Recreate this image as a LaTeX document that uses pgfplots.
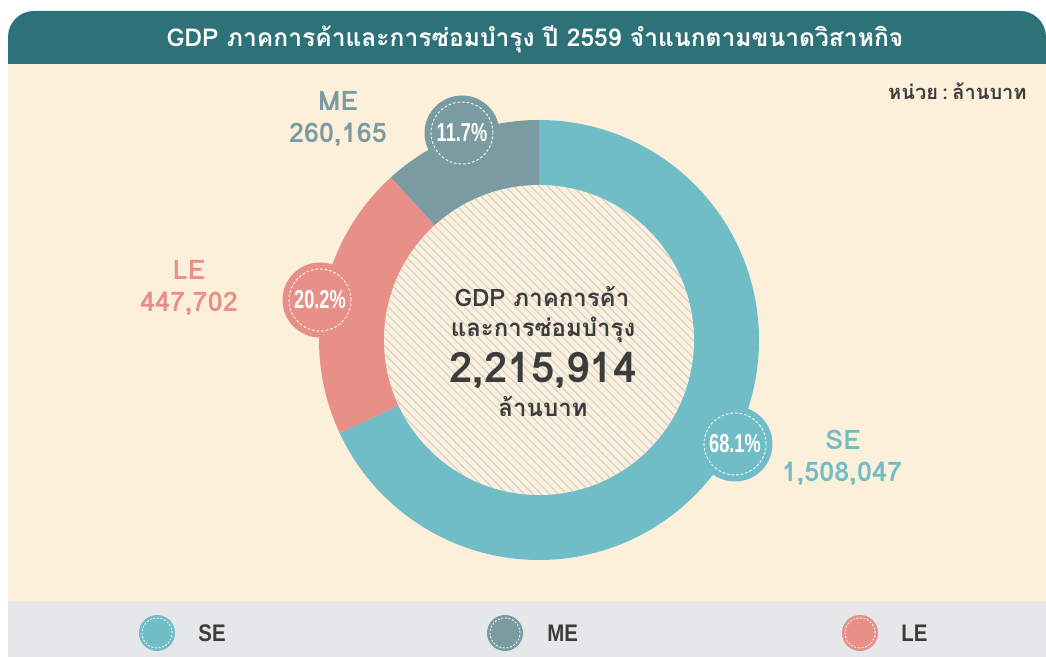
\documentclass[border=0pt]{standalone}
\usepackage{pgfplots}
\pgfplotsset{compat=1.18}
\usepackage{pgfplotstable}
\usetikzlibrary{patterns.meta}
\usepackage{fontspec}
\setmainfont{Liberation Sans}
\newfontfamily\thai[Script=Thai]{Loma}
\newfontfamily\pctfont[FakeStretch=0.7]{Liberation Sans}
\newfontfamily\legfont[FakeStretch=0.85]{Liberation Sans}

\definecolor{titlebg}{HTML}{2D7179}
\definecolor{beige}{HTML}{FDF0DA}
\definecolor{secol}{HTML}{70BCC7}
\definecolor{mecol}{HTML}{7A9BA1}
\definecolor{lecol}{HTML}{E88F88}
\definecolor{legbg}{HTML}{E6E7E8}
\definecolor{txt}{HTML}{3C3C3C}
\definecolor{hatch}{HTML}{C9CFD4}

\pgfplotstableread{
seg value
SE 1508047
LE 447702
ME 260165
}\gdpdata

\newcommand\bubble[4]{% x, y, colour, text
  \fill[#3] (axis cs:#1,#2) circle[radius=18.75pt];
  \draw[white, line width=0.45pt, dash pattern=on 1.3pt off 1pt] (axis cs:#1,#2) circle[radius=15.5pt];
  \node[white] at (axis cs:#1,#2) {\pctfont\bfseries\fontsize{13}{14}\selectfont #4\%};
}
\newcommand\legitem[4]{% circle x, text x, colour, name
  \fill[#3] (axis cs:#1,24) circle[radius=9pt];
  \draw[white, line width=0.4pt, dash pattern=on 1pt off 0.8pt] (axis cs:#1,24) circle[radius=7.5pt];
  \node[txt, anchor=base west, inner sep=0pt] at (axis cs:#2,15) {\legfont\bfseries\fontsize{12}{14}\selectfont #4};
}

\begin{document}
\begin{tikzpicture}
\pgfplotstablegetelem{0}{value}\of\gdpdata \edef\vSE{\pgfplotsretval}
\pgfplotstablegetelem{1}{value}\of\gdpdata \edef\vLE{\pgfplotsretval}
\pgfplotstablegetelem{2}{value}\of\gdpdata \edef\vME{\pgfplotsretval}
\edef\total{\fpeval{\vSE+\vLE+\vME}}
\edef\aA{\fpeval{90-360*\vSE/\total}}
\edef\aB{\fpeval{\aA-360*\vLE/\total}}
\edef\pSE{\fpeval{round(100*\vSE/\total,1)}}
\edef\pLE{\fpeval{round(100*\vLE/\total,1)}}
\edef\pME{\fpeval{round(100*\vME/\total,1)}}
\begin{axis}[
  x=0.5pt, y=0.5pt,
  xmin=0, xmax=1046, ymin=0, ymax=657,
  hide axis, clip=false,
]
  % panels
  \fill[white] (axis cs:0,0) rectangle (axis cs:1046,657);
  \fill[legbg] (axis cs:8,0) rectangle (axis cs:1046,56);
  \fill[beige] (axis cs:8,56) rectangle (axis cs:1046,593);
  \fill[titlebg] (axis cs:8,593) {[rounded corners=13pt] -- (axis cs:8,646) -- (axis cs:1046,646)} -- (axis cs:1046,593) -- cycle;
  \node[white, anchor=base] at (axis cs:535,610) {\thai\bfseries\fontsize{12.3}{14}\selectfont GDP ภาคการค้าและการซ่อมบำรุง ปี 2559 จำแนกตามขนาดวิสาหกิจ};
  \node[txt, anchor=base east, inner sep=0pt] at (axis cs:1027,557) {\thai\bfseries\fontsize{10}{12}\selectfont หน่วย\kern2.2pt:\kern2.2pt ล้านบาท};

  % donut
  \fill[secol] (axis cs:539,317) -- ++(90:110pt) arc[start angle=90, end angle=\aA, radius=110pt] -- cycle;
  \fill[lecol] (axis cs:539,317) -- ++(\aA:110pt) arc[start angle=\aA, end angle=\aB, radius=110pt] -- cycle;
  \fill[mecol] (axis cs:539,317) -- ++(\aB:110pt) arc[start angle=\aB, end angle=-270, radius=110pt] -- cycle;
  \fill[beige] (axis cs:539,317) circle[radius=77.5pt];
  \fill[pattern={Lines[angle=-45, distance=3pt, line width=0.5pt]}, pattern color=hatch] (axis cs:539,317) circle[radius=77.5pt];

  % centre text
  \node[txt, anchor=base] at (axis cs:542,350) {\thai\bfseries\fontsize{12}{14}\selectfont GDP ภาคการค้า};
  \node[txt, anchor=base] at (axis cs:543,320) {\thai\bfseries\fontsize{12}{14}\selectfont และการซ่อมบำรุง};
  \node[txt, anchor=base] at (axis cs:543,274) {\thai\bfseries\fontsize{21}{24}\selectfont 2,215,914};
  \node[txt, anchor=base] at (axis cs:543,240) {\thai\bfseries\fontsize{12}{14}\selectfont ล้านบาท};

  % bubbles
  \bubble{462}{524}{mecol}{\pME}
  \bubble{320}{357}{lecol}{\pLE}
  \bubble{735}{213}{secol}{\pSE}

  % segment labels
  \node[mecol, anchor=base] at (axis cs:338,546) {\thai\bfseries\fontsize{13.5}{15}\selectfont ME};
  \node[mecol, anchor=base] at (axis cs:338,514) {\thai\bfseries\fontsize{13.5}{15}\selectfont 260,165};
  \node[lecol, anchor=base] at (axis cs:189,377) {\thai\bfseries\fontsize{13.5}{15}\selectfont LE};
  \node[lecol, anchor=base] at (axis cs:189,345) {\thai\bfseries\fontsize{13.5}{15}\selectfont 447,702};
  \node[secol, anchor=base] at (axis cs:843,207) {\thai\bfseries\fontsize{13.5}{15}\selectfont SE};
  \node[secol, anchor=base] at (axis cs:842,175) {\thai\bfseries\fontsize{13.5}{15}\selectfont 1,508,047};

  % legend
  \legitem{157}{198}{secol}{SE}
  \legitem{505}{547}{mecol}{ME}
  \legitem{860}{901}{lecol}{LE}
\end{axis}
\end{tikzpicture}
\end{document}
